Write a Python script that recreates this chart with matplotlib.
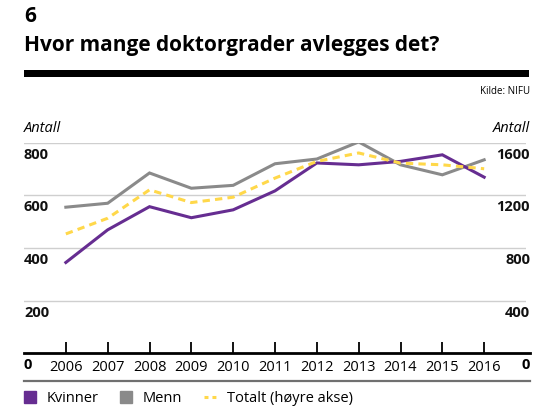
import matplotlib
matplotlib.use("Agg")
import matplotlib.pyplot as plt
import matplotlib.transforms as mtrans
from matplotlib.patches import Rectangle, Patch
from matplotlib.lines import Line2D

years = list(range(2006, 2017))
kvinner = [345, 469, 557, 515, 545, 617, 723, 716, 729, 754, 669]
menn = [555, 570, 685, 627, 638, 720, 738, 803, 716, 678, 735]
totalt = [907, 1026, 1242, 1145, 1186, 1331, 1458, 1522, 1445, 1432, 1402]
left_ticks = [200, 400, 600, 800]
right_ticks = [400, 800, 1200, 1600]

purple = '#662d91'
grey = '#8a8a8a'
yellow = '#ffd84a'

plt.rcParams['font.family'] = ['Open Sans', 'DejaVu Sans']

W, H = 559, 417
fig = plt.figure(figsize=(W / 100, H / 100), dpi=100)

def fx(px):
    return px / W

def fy(py):
    return 1 - py / H

# plot area: x 24..526 px, y 142.7..353.3 px
ax = fig.add_axes([fx(24), fy(353.3), fx(526) - fx(24), fy(142.7) - fy(353.3)])
ax2 = ax.twinx()

ax.plot(years, menn, color=grey, lw=2.2, solid_joinstyle='miter')
ax.plot(years, kvinner, color=purple, lw=2.2, solid_joinstyle='miter')
ax2.plot(years, totalt, color=yellow, lw=2.2, dashes=(2.4, 1.7))

ax.set_xlim(2005, 2017)
ax.set_ylim(0, 800)
ax2.set_ylim(0, 1600)

for a in (ax, ax2):
    for s in a.spines.values():
        s.set_visible(False)
    a.set_yticks([])
    a.patch.set_visible(False)

for v in left_ticks:
    ax.axhline(v, color='#cfcfcf', lw=1.0, zorder=0)

ax.axhline(0, xmin=0, xmax=1.008, color='black', lw=2.0, clip_on=False, zorder=3)
ax.set_xticks(years)
ax.set_xticklabels([str(y) for y in years], fontsize=10.5)
ax.tick_params(axis='x', direction='in', length=8, width=1.3, pad=5, colors='black')

# value labels just under the gridlines
tl = mtrans.offset_copy(mtrans.blended_transform_factory(fig.transFigure, ax.transData),
                        fig=fig, y=-12, units='dots')
tr = mtrans.offset_copy(mtrans.blended_transform_factory(fig.transFigure, ax2.transData),
                        fig=fig, y=-12, units='dots')
for v in left_ticks:
    ax.text(fx(24), v, str(v), transform=tl, ha='left', va='center', fontsize=10.5,
            fontweight='bold', color='#111111')
for v in right_ticks:
    ax2.text(fx(530), v, str(v), transform=tr, ha='right', va='center', fontsize=10.5,
             fontweight='bold', color='#111111')
fig.text(fx(24), fy(365), '0', ha='left', va='center', fontsize=10.5, fontweight='bold')
fig.text(fx(530), fy(365), '0', ha='right', va='center', fontsize=10.5, fontweight='bold')

# headings
fig.text(fx(24), fy(16), '6', ha='left', va='center', fontsize=15, fontweight='bold')
fig.text(fx(24), fy(45), 'Hvor mange doktorgrader avlegges det?', ha='left', va='center',
         fontsize=15, fontweight='bold')
fig.add_artist(Rectangle((fx(24), fy(77)), fx(529) - fx(24), fy(70) - fy(77),
                         transform=fig.transFigure, color='black', lw=0))
fig.text(fx(530), fy(92), 'Kilde: NIFU', ha='right', va='center', fontsize=7)
fig.text(fx(24), fy(128), 'Antall', ha='left', va='center', fontsize=10.5, style='italic')
fig.text(fx(530), fy(128), 'Antall', ha='right', va='center', fontsize=10.5, style='italic')

fig.add_artist(Line2D([fx(24), fx(530)], [fy(381), fy(381)], transform=fig.transFigure,
                      color='#707070', lw=1.6))

handles = [Patch(color=purple), Patch(color=grey),
           Line2D([0], [0], color=yellow, lw=2.2, dashes=(1.3, 1.3))]
fig.legend(handles, ['Kvinner', 'Menn', 'Totalt (høyre akse)'], ncol=3, frameon=False,
           loc='center left', bbox_to_anchor=(fx(24), fy(398.5)), fontsize=10.5,
           handlelength=0.8, handleheight=0.8, handletextpad=0.75, columnspacing=1.5,
           borderaxespad=0, borderpad=0)

fig.savefig('out.png', dpi=100)
